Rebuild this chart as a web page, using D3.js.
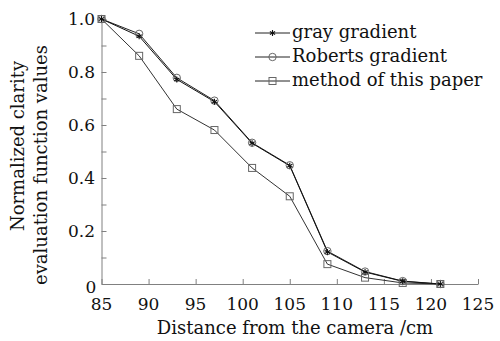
<!DOCTYPE html>
<html><head><meta charset="utf-8">
<script src="https://cdn.jsdelivr.net/npm/d3@7"></script>
<style>body{margin:0;background:#fff}svg{display:block}text{font-family:"DejaVu Serif",serif;fill:#111}</style>
</head><body><svg id="c" width="500" height="341"></svg>
<script>
const distances = [85, 89, 93, 97, 101, 105, 109, 113, 117, 121];
const grayGradient = [1.0, 0.935, 0.772, 0.688, 0.531, 0.446, 0.121, 0.045, 0.010, 0.0];
const robertsGradient = [1.0, 0.944, 0.778, 0.692, 0.533, 0.448, 0.124, 0.047, 0.011, 0.0];
const thisMethod = [1.0, 0.861, 0.660, 0.581, 0.438, 0.331, 0.075, 0.024, 0.004, 0.0];
const seriesNames = ["gray gradient", "Roberts gradient", "method of this paper"];
const xTicks = [85, 90, 95, 100, 105, 110, 115, 120, 125];
const yTickLabels = ["0", "0.2", "0.4", "0.6", "0.8", "1.0"];

const svg = d3.select("#c");
const x = d3.scaleLinear().domain([85, 125]).range([101.5, 478]);
const y = d3.scaleLinear().domain([0, 1]).range([284, 19]);
const axisCol = "#808080";

// axes
const xa = svg.append("g").attr("transform", `translate(0,${y(0)})`)
  .call(d3.axisBottom(x).tickValues(xTicks).tickSizeInner(-5).tickSizeOuter(0).tickFormat(""));
const ya = svg.append("g").attr("transform", `translate(${x(85)},0)`)
  .call(d3.axisLeft(y).tickValues(d3.range(0, 11).map(i => i / 10)).tickSizeInner(-5).tickSizeOuter(0).tickFormat(""));
[xa, ya].forEach(a => { a.selectAll("path,line").attr("stroke", axisCol).attr("stroke-width", 1); });

// tick labels
svg.append("g").selectAll("text").data(xTicks).join("text")
  .attr("x", d => x(d)).attr("y", 310).attr("text-anchor", "middle")
  .attr("font-size", 17).text(d => d);
svg.append("g").selectAll("text").data(yTickLabels).join("text")
  .attr("x", (d, i) => i === 0 ? 91 : 95)
  .attr("y", (d, i) => i === 0 ? y(0) + 9 : y(i * 0.2) + 6)
  .attr("text-anchor", (d, i) => i === 0 ? "middle" : "end")
  .attr("font-size", 17).text(d => d);

// axis titles
svg.append("text").attr("x", 295).attr("y", 334).attr("text-anchor", "middle")
  .attr("font-size", 18).text("Distance from the camera /cm");
svg.append("text").attr("transform", "translate(24,146) rotate(-90)").attr("text-anchor", "middle")
  .attr("font-size", 18).text("Normalized clarity");
svg.append("text").attr("transform", "translate(47,165) rotate(-90)").attr("text-anchor", "middle")
  .attr("font-size", 18).text("evaluation function values");

// series
const line = d3.line().x(d => x(d[0])).y(d => y(d[1]));
const series = [
  { name: seriesNames[2], vals: thisMethod, marker: "square", col: "#333" },
  { name: seriesNames[1], vals: robertsGradient, marker: "circle", col: "#222" },
  { name: seriesNames[0], vals: grayGradient, marker: "star", col: "#111" }
];
function drawMarker(g, type, cx, cy) {
  if (type === "square") {
    g.append("rect").attr("x", cx - 3.5).attr("y", cy - 3.5).attr("width", 7).attr("height", 7)
      .attr("fill", "none").attr("stroke", "#666").attr("stroke-width", 1);
  } else if (type === "circle") {
    g.append("circle").attr("cx", cx).attr("cy", cy).attr("r", 3.7)
      .attr("fill", "none").attr("stroke", "#666").attr("stroke-width", 1);
  } else {
    const r = 3;
    [0, 60, 120].forEach(a => {
      const rad = a * Math.PI / 180;
      g.append("line").attr("x1", cx - r * Math.sin(rad)).attr("y1", cy - r * Math.cos(rad))
        .attr("x2", cx + r * Math.sin(rad)).attr("y2", cy + r * Math.cos(rad))
        .attr("stroke", "#111").attr("stroke-width", 1.1);
    });
  }
}
series.forEach(s => {
  const pts = distances.map((d, i) => [d, s.vals[i]]);
  svg.append("path").datum(pts).attr("d", line).attr("fill", "none")
    .attr("stroke", s.col).attr("stroke-width", 1);
});
series.forEach(s => {
  const g = svg.append("g");
  distances.forEach((d, i) => drawMarker(g, s.marker, x(d), y(s.vals[i])));
});

// legend
const leg = svg.append("g");
[["star", seriesNames[0]], ["circle", seriesNames[1]], ["square", seriesNames[2]]].forEach((it, i) => {
  const ly = 33 + i * 24;
  leg.append("line").attr("x1", 255).attr("x2", 290).attr("y1", ly).attr("y2", ly)
    .attr("stroke", "#222").attr("stroke-width", 1);
  drawMarker(leg, it[0], 272.5, ly);
  leg.append("text").attr("x", 292).attr("y", ly + 5).attr("font-size", 18).text(it[1]);
});
</script></body></html>
